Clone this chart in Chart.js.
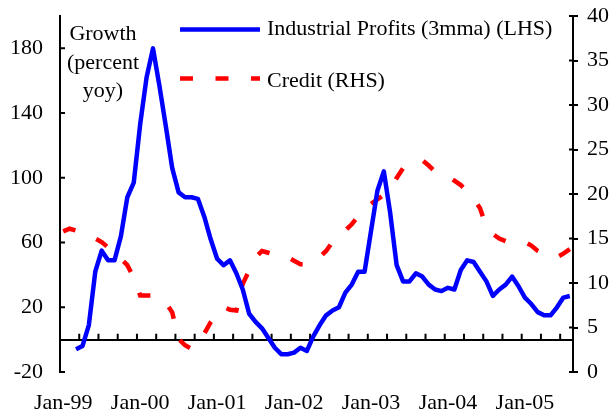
<!DOCTYPE html>
<html>
<head>
<meta charset="utf-8">
<script src="https://cdn.jsdelivr.net/npm/chart.js@4.4.1/dist/chart.umd.min.js"></script>
<style>
  html, body { margin: 0; padding: 0; background: #fff; }
  #wrap { width: 611px; height: 416px; }
</style>
</head>
<body>
<div id="wrap"><canvas id="chart"></canvas></div>
<script>
// monthly categories Jan-99 .. Aug-05
const years = ["99", "00", "01", "02", "03", "04", "05"];
const monthNames = ["Jan", "Feb", "Mar", "Apr", "May", "Jun", "Jul", "Aug", "Sep", "Oct", "Nov", "Dec"];
const lastMonth = "Aug-05";
const categories = [];
for (const y of years) {
    for (const m of monthNames) {
        if (categories.includes(lastMonth)) break;
        categories.push(m + "-" + y);
    }
}

// industrial profits, 3mma, % yoy (LHS)
const profits = [
    null, null, -6, -4, 9, 42, 55, 49, 49, 64, 88, 97,
    133, 162, 180, 157, 132, 106, 91, 88, 88, 87, 76, 62,
    50, 46, 49, 41, 31, 16, 11, 7, 1, -5, -9, -9,
    -8, -5, -7, 2, 9, 15, 18, 20, 29, 34, 42, 42,
    67, 92, 104, 78, 46, 36, 36, 41, 39, 34, 31, 30,
    32, 31, 43, 49, 48, 42, 36, 27, 31, 34, 39, 33,
    26, 22, 17, 15, 15, 20, 26, 27
];

// credit growth, % yoy (RHS)
const credit = [
    15.8, 16.1, 15.9, 15.6, 15.3, 15.0, 14.6, 14.0, 13.3, 12.7, 12.0, 10.6,
    8.6, 8.6, 8.6, 8.2, 7.8, 6.7, 3.7, 3.0, 2.6, 3.3, 4.3, 5.6,
    6.6, 7.3, 7.0, 6.9, 9.9, 11.4, 12.9, 13.6, 13.4, 13.2, 13.0, 12.9,
    12.5, 12.1, 12.1, 12.4, 12.9, 13.6, 14.6, 15.3, 15.9, 16.6, 17.5, 18.4,
    18.9, 19.4, 19.9, 20.5, 21.8, 22.9, 23.3, 23.6, 23.8, 23.2, 22.5, 22.2,
    22.0, 21.5, 21.0, 20.3, 19.5, 18.4, 16.3, 15.5, 15.0, 14.7, 14.7, 14.7,
    14.6, 14.2, 13.6, 13.2, 13.0, 12.9, 13.3, 13.8
];

const leftTicks = [-20, 20, 60, 100, 140, 180];
const rightTicks = [0, 5, 10, 15, 20, 25, 30, 35, 40];
const axisNote = ["Growth", "(percent", "yoy)"];

const font = { family: "'Liberation Serif', 'Times New Roman', serif", size: 22 };
const fontCss = "22px 'Liberation Serif', 'Times New Roman', serif";

// inward tick marks: quarterly on the zero line, left axis, inner half of right axis
const innerTicks = {
    id: "innerTicks",
    beforeDatasetsDraw(chart) {
        const { ctx, scales } = chart;
        const xs = scales.x, ys = scales.y, ys1 = scales.y1;
        const y0 = ys.getPixelForValue(0);
        const step = xs.width / categories.length;
        ctx.save();
        ctx.strokeStyle = "#000";
        ctx.lineWidth = 2;
        ctx.setLineDash([]);
        ctx.beginPath();
        for (let i = 0; i < categories.length; i += 3) {
            const px = xs.left + i * step;
            ctx.moveTo(px, y0);
            ctx.lineTo(px, y0 - 6);
        }
        leftTicks.forEach(v => {
            const py = ys.getPixelForValue(v);
            ctx.moveTo(ys.right, py);
            ctx.lineTo(ys.right + 5, py);
        });
        rightTicks.forEach(v => {
            const py = ys1.getPixelForValue(v);
            ctx.moveTo(ys1.left, py);
            ctx.lineTo(ys1.left - 4, py);
        });
        ctx.stroke();
        ctx.restore();
    }
};

// axis note and in-plot legend
const overlay = {
    id: "overlay",
    afterDraw(chart) {
        const ctx = chart.ctx;
        ctx.save();
        ctx.font = fontCss;
        ctx.fillStyle = "#000";
        ctx.textAlign = "center";
        ctx.textBaseline = "alphabetic";
        axisNote.forEach((t, i) => ctx.fillText(t, 103, 40 + i * 28.5));

        const lineY = [29.5, 78.5];
        const textY = [35, 87];
        chart.data.datasets.forEach((ds, i) => {
            ctx.beginPath();
            ctx.strokeStyle = ds.borderColor;
            ctx.lineWidth = ds.borderWidth;
            ctx.setLineDash(ds.borderDash || []);
            ctx.moveTo(180, lineY[i]);
            ctx.lineTo(260, lineY[i]);
            ctx.stroke();
            ctx.setLineDash([]);
            ctx.textAlign = "left";
            ctx.fillText(ds.label, 267, textY[i]);
        });
        ctx.restore();
    }
};

// keep the plot area fixed: no extra room for tick label padding
const fixBox = (w) => (s) => {
    s.width = w;
    s.paddingTop = 0;
    s.paddingBottom = 0;
};

new Chart(document.getElementById("chart"), {
    type: "line",
    data: {
        labels: categories,
        datasets: [
            {
                label: "Industrial Profits (3mma) (LHS)",
                data: profits,
                yAxisID: "y",
                borderColor: "#0000ff",
                borderWidth: 4.5,
                borderJoinStyle: "round",
                pointRadius: 0,
                tension: 0
            },
            {
                label: "Credit (RHS)",
                data: credit,
                yAxisID: "y1",
                borderColor: "#ff0000",
                borderWidth: 4.5,
                borderDash: [13, 22.5],
                pointRadius: 0,
                tension: 0
            }
        ]
    },
    options: {
        responsive: true,
        maintainAspectRatio: false,
        animation: false,
        layout: { padding: { top: 16, left: 0, right: 0, bottom: 0 } },
        plugins: { legend: { display: false }, tooltip: { enabled: false } },
        scales: {
            x: {
                type: "category",
                position: "bottom",
                offset: true,
                grid: { display: false, drawTicks: false },
                border: { display: false },
                ticks: {
                    autoSkip: false,
                    maxRotation: 0,
                    padding: 18,
                    color: "#000",
                    font: font,
                    callback(v, i) { return i % 12 === 0 ? this.getLabelForValue(v) : null; }
                },
                afterFit: s => { s.height = 44; }
            },
            xZero: {
                type: "category",
                position: { y: 0 },
                offset: true,
                grid: { display: false, drawTicks: false },
                border: { display: true, color: "#000", width: 2 },
                ticks: { display: false }
            },
            y: {
                position: "left",
                min: -20,
                max: 200,
                afterBuildTicks: s => { s.ticks = leftTicks.map(v => ({ value: v })); },
                grid: { drawOnChartArea: false, drawTicks: false },
                border: { color: "#000", width: 2 },
                ticks: { color: "#000", font: font, padding: 17 },
                afterFit: fixBox(60)
            },
            y1: {
                position: "right",
                min: 0,
                max: 40,
                afterBuildTicks: s => { s.ticks = rightTicks.map(v => ({ value: v })); },
                grid: { drawOnChartArea: false, tickLength: 5, color: "#000", lineWidth: 2 },
                border: { color: "#000", width: 2 },
                ticks: { color: "#000", font: font, padding: 9 },
                afterFit: fixBox(38)
            }
        }
    },
    plugins: [innerTicks, overlay]
});
</script>
</body>
</html>
